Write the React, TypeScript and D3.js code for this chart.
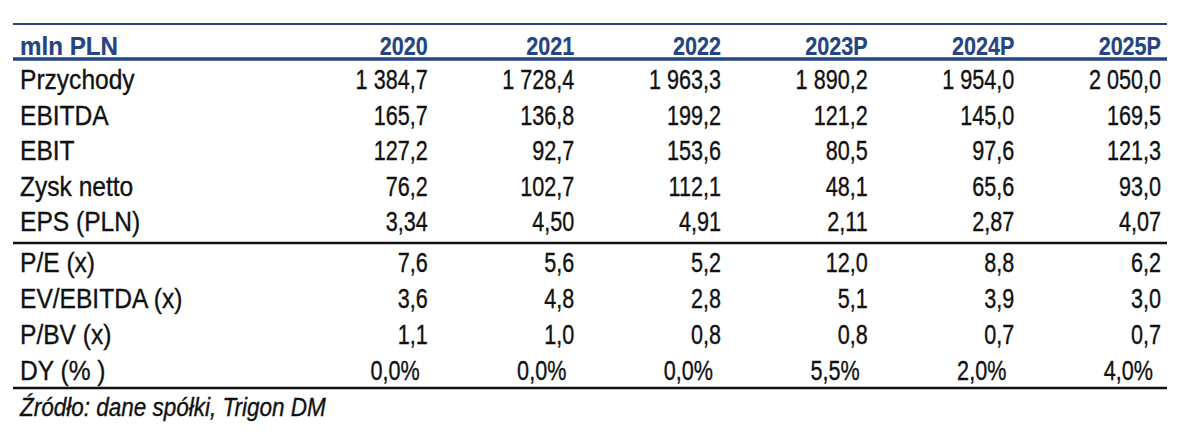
import React from "react";
import * as d3 from "d3";

const years = ["2020", "2021", "2022", "2023P", "2024P", "2025P"];

const topLabels = ["Przychody", "EBITDA", "EBIT", "Zysk netto", "EPS (PLN)"];
const przychody = [1384.7, 1728.4, 1963.3, 1890.2, 1954.0, 2050.0];
const ebitda = [165.7, 136.8, 199.2, 121.2, 145.0, 169.5];
const ebit = [127.2, 92.7, 153.6, 80.5, 97.6, 121.3];
const zyskNetto = [76.2, 102.7, 112.1, 48.1, 65.6, 93.0];
const eps = [3.34, 4.5, 4.91, 2.11, 2.87, 4.07];

const bottomLabels = ["P/E (x)", "EV/EBITDA (x)", "P/BV (x)", "DY (% )"];
const pe = [7.6, 5.6, 5.2, 12.0, 8.8, 6.2];
const evEbitda = [3.6, 4.8, 2.8, 5.1, 3.9, 3.0];
const pbv = [1.1, 1.0, 0.8, 0.8, 0.7, 0.7];
const dy = [0.0, 0.0, 0.0, 0.055, 0.02, 0.04];

const headerLabel = "mln PLN";
const sourceText = "Źródło: dane spółki, Trigon DM";

const pl = d3.formatLocale({
  decimal: ",",
  thousands: " ",
  grouping: [3],
  currency: ["", " zł"],
});
const f1 = pl.format(",.1f");
const f2 = pl.format(".2f");
const fp = pl.format(".1%");

const W = 1200;
const H = 431;
const BLUE = "#24457f";
const INK = "#111";
const FONT = "Arial, 'Liberation Sans', Helvetica, sans-serif";

type TProps = {
  x: number;
  y: number;
  sx: number;
  anchor?: "start" | "end";
  size: number;
  weight?: number;
  italic?: boolean;
  fill?: string;
  children: React.ReactNode;
};

function T({ x, y, sx, anchor = "start", size, weight = 400, italic, fill = INK, children }: TProps) {
  return (
    <text
      transform={`translate(${x},${y}) scale(${sx},1)`}
      textAnchor={anchor}
      style={{
        fontFamily: FONT,
        fontSize: size,
        fontWeight: weight,
        fontStyle: italic ? "italic" : "normal",
        fill,
        stroke: fill,
        strokeWidth: weight >= 700 ? 0.2 : 0.35,
      }}
    >
      {children}
    </text>
  );
}

export default function App() {
  const left = 13;
  const right = 1167;
  const x = d3.scaleBand<string>().domain(years).range([287, right]).padding(0);
  const colRight = (y: string) => (x(y) as number) + x.bandwidth() - 6;

  const yTop = d3.scaleLinear().domain([0, topLabels.length - 1]).range([89, 231]);
  const yBot = d3.scaleLinear().domain([0, bottomLabels.length - 1]).range([272, 380]);

  const topRows: { label: string; vals: string[] }[] = [
    { label: topLabels[0], vals: przychody.map(f1) },
    { label: topLabels[1], vals: ebitda.map(f1) },
    { label: topLabels[2], vals: ebit.map(f1) },
    { label: topLabels[3], vals: zyskNetto.map(f1) },
    { label: topLabels[4], vals: eps.map(f2) },
  ];
  const botRows: { label: string; vals: string[]; pct?: boolean }[] = [
    { label: bottomLabels[0], vals: pe.map(f1) },
    { label: bottomLabels[1], vals: evEbitda.map(f1) },
    { label: bottomLabels[2], vals: pbv.map(f1) },
    { label: bottomLabels[3], vals: dy.map(fp), pct: true },
  ];

  const FS = 27;
  const LABEL_SX = 0.91;
  const NUM_SX = 0.8;

  return (
    <svg
      width={W}
      height={H}
      viewBox={`0 0 ${W} ${H}`}
      style={{ position: "absolute", left: 0, top: 0, background: "#fff", display: "block" }}
    >
      {/* top blue line */}
      <line x1={left} x2={right} y1={24} y2={24} stroke={BLUE} strokeWidth={2.2} />
      {/* header */}
      <T x={20} y={55} sx={0.93} size={26} weight={700} fill={BLUE}>
        {headerLabel}
      </T>
      {years.map((yr) => (
        <T key={yr} x={colRight(yr)} y={55} sx={0.83} anchor="end" size={26} weight={700} fill={BLUE}>
          {yr}
        </T>
      ))}
      <line x1={left} x2={right} y1={59} y2={59} stroke={BLUE} strokeWidth={3.4} />

      {topRows.map((r, i) => (
        <g key={r.label}>
          <T x={20} y={yTop(i)} sx={LABEL_SX} size={FS}>
            {r.label}
          </T>
          {r.vals.map((v, j) => (
            <T key={j} x={colRight(years[j])} y={yTop(i)} sx={NUM_SX} anchor="end" size={FS}>
              {v}
            </T>
          ))}
        </g>
      ))}

      <line x1={left} x2={right} y1={243} y2={243} stroke={INK} strokeWidth={2.6} />

      {botRows.map((r, i) => (
        <g key={r.label}>
          <T x={20} y={yBot(i)} sx={LABEL_SX} size={FS}>
            {r.label}
          </T>
          {r.vals.map((v, j) => (
            <T
              key={j}
              x={colRight(years[j]) - (r.pct ? 8 : 0)}
              y={yBot(i)}
              sx={NUM_SX}
              anchor="end"
              size={FS}
            >
              {v}
            </T>
          ))}
        </g>
      ))}

      <line x1={left} x2={right} y1={388} y2={388} stroke={INK} strokeWidth={2.6} />

      <T x={20} y={416} sx={0.9} size={25} italic>
        {sourceText}
      </T>
    </svg>
  );
}
